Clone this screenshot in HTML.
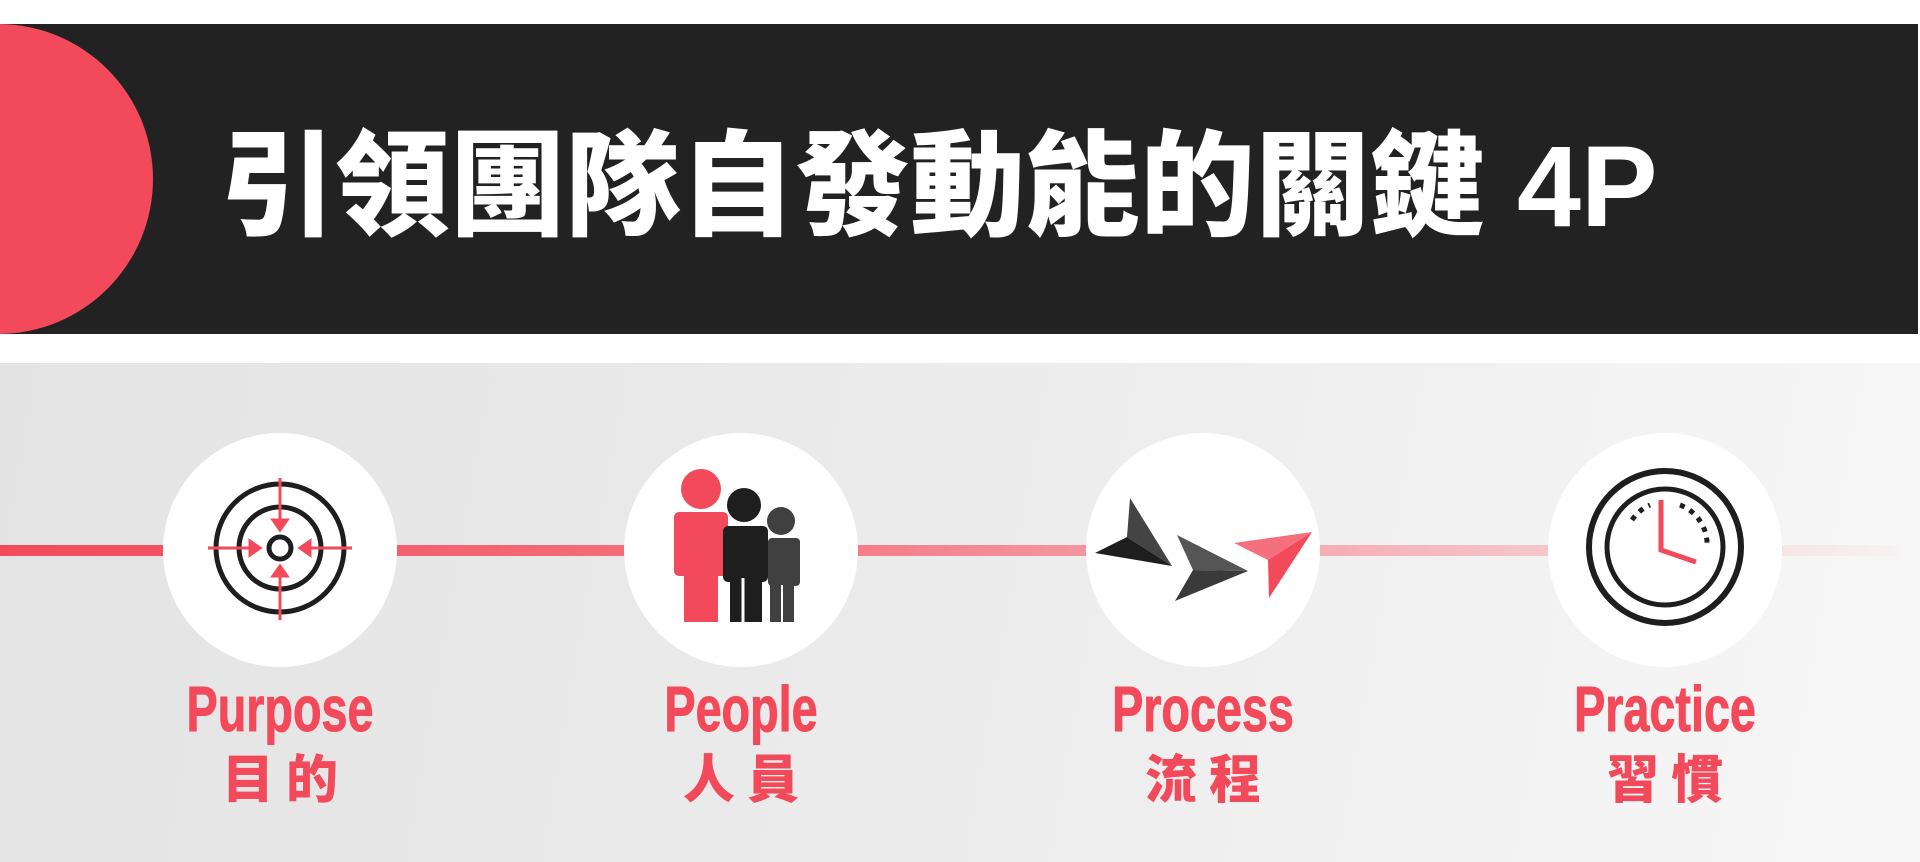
<!DOCTYPE html>
<html><head><meta charset="utf-8"><style>
body{margin:0;width:1920px;height:862px;overflow:hidden;background:#fff;position:relative;font-family:"Liberation Sans","Noto Sans CJK TC",sans-serif}
.bar{position:absolute;left:0;top:24px;width:1918px;height:310px;background:#222;overflow:hidden}
.dot{position:absolute;left:-157px;top:0;width:310px;height:310px;border-radius:50%;background:#f24a5a}
.title{position:absolute;left:220px;top:130px;font-size:115px;color:#fff;white-space:nowrap;line-height:1;font-family:"Liberation Sans","Noto Sans CJK TC",sans-serif;font-weight:900}
.gray{position:absolute;left:0;top:363px;width:1920px;height:499px;background:linear-gradient(100deg,#e3e3e3 0%,#ececec 50%,#f7f7f7 100%)}
.lbl{position:absolute;width:300px;text-align:center;color:#f24a5a}
.en{top:677px;font-family:"Liberation Sans",sans-serif;font-weight:bold;font-size:64px;line-height:1;transform:scaleX(0.73);transform-origin:150px 0;-webkit-text-stroke:1px #f24a5a}
.zh{top:750px;font-family:"Noto Sans CJK TC",sans-serif;font-weight:900;font-size:52px;letter-spacing:12px;line-height:1;text-indent:12px}
</style></head><body>
<div class="bar"><div class="dot"></div></div>
<div class="title">引領團隊自發動能的關鍵 4P</div>
<div class="gray"></div>
<svg style="position:absolute;left:0;top:0" width="1920" height="862">
<defs><linearGradient id="lg" x1="0" x2="1920" gradientUnits="userSpaceOnUse">
<stop offset="0" stop-color="#f24a5a"/><stop offset="0.4" stop-color="#f47480"/><stop offset="0.7" stop-color="#f5b0b6"/><stop offset="1" stop-color="#f5b0b6" stop-opacity="0"/></linearGradient></defs>
<rect x="0" y="545" width="1900" height="11" fill="url(#lg)"/>
<g fill="#fff"><circle cx="280" cy="550" r="117"/><circle cx="741" cy="550" r="117"/><circle cx="1203" cy="550" r="117"/><circle cx="1665" cy="550" r="117"/></g>
<g fill="none" stroke="#1e1e1e" stroke-width="5"><circle cx="280" cy="548" r="64"/><circle cx="280" cy="548" r="41"/><circle cx="280" cy="548" r="11"/></g>
<g stroke="#f24a5a" stroke-width="3" fill="#f24a5a">
<line x1="280" y1="478" x2="280" y2="528"/><line x1="280" y1="568" x2="280" y2="620"/><line x1="208" y1="548" x2="258" y2="548"/><line x1="302" y1="548" x2="352" y2="548"/>
<polygon points="273,520 287,520 280,530"/><polygon points="273,576 287,576 280,566"/><polygon points="250,541 250,555 260,548"/><polygon points="310,541 310,555 300,548"/></g>
<g fill="#f24a5a"><circle cx="701" cy="489" r="20"/><rect x="674" y="512" width="54" height="64" rx="5"/><rect x="684" y="560" width="34" height="62"/></g>
<g fill="#1e1e1e"><circle cx="744" cy="505" r="17"/><rect x="723" y="526" width="45" height="56" rx="5"/><rect x="730" y="570" width="32" height="52"/></g>
<g fill="#404040"><circle cx="781" cy="521" r="14"/><rect x="768" y="538" width="32" height="48" rx="4"/><rect x="770" y="575" width="24" height="47"/></g>
<line x1="743" y1="578" x2="743" y2="622" stroke="#fff" stroke-width="3"/><line x1="782" y1="585" x2="782" y2="622" stroke="#fff" stroke-width="2"/>
<polygon points="1130,498 1172,566 1127,537" fill="#444"/><polygon points="1095,553 1127,537 1172,566" fill="#1e1e1e"/>
<polygon points="1177,535 1248,571 1193,570" fill="#555"/><polygon points="1193,570 1248,571 1175,601" fill="#3a3a3a"/>
<polygon points="1234,543 1312,532 1268,560" fill="#f4707c"/><polygon points="1268,560 1312,532 1269,598" fill="#f24a5a"/>
<g fill="none" stroke="#1e1e1e"><circle cx="1665" cy="547" r="76" stroke-width="6"/><circle cx="1665" cy="547" r="58" stroke-width="5"/></g>
<g stroke="#1e1e1e" stroke-width="5" stroke-dasharray="5 6" fill="none"><path d="M1632,520 A42,42 0 0 1 1650,505"/><path d="M1680,505 A42,42 0 0 1 1707,547"/></g>
<polyline points="1661,500 1661,550 1696,562" fill="none" stroke="#f24a5a" stroke-width="5"/>
</svg>
<div class="lbl en" style="left:130px">Purpose</div><div class="lbl zh" style="left:130px">目的</div>
<div class="lbl en" style="left:591px">People</div><div class="lbl zh" style="left:591px">人員</div>
<div class="lbl en" style="left:1053px">Process</div><div class="lbl zh" style="left:1053px">流程</div>
<div class="lbl en" style="left:1515px">Practice</div><div class="lbl zh" style="left:1515px">習慣</div>
</body></html>
